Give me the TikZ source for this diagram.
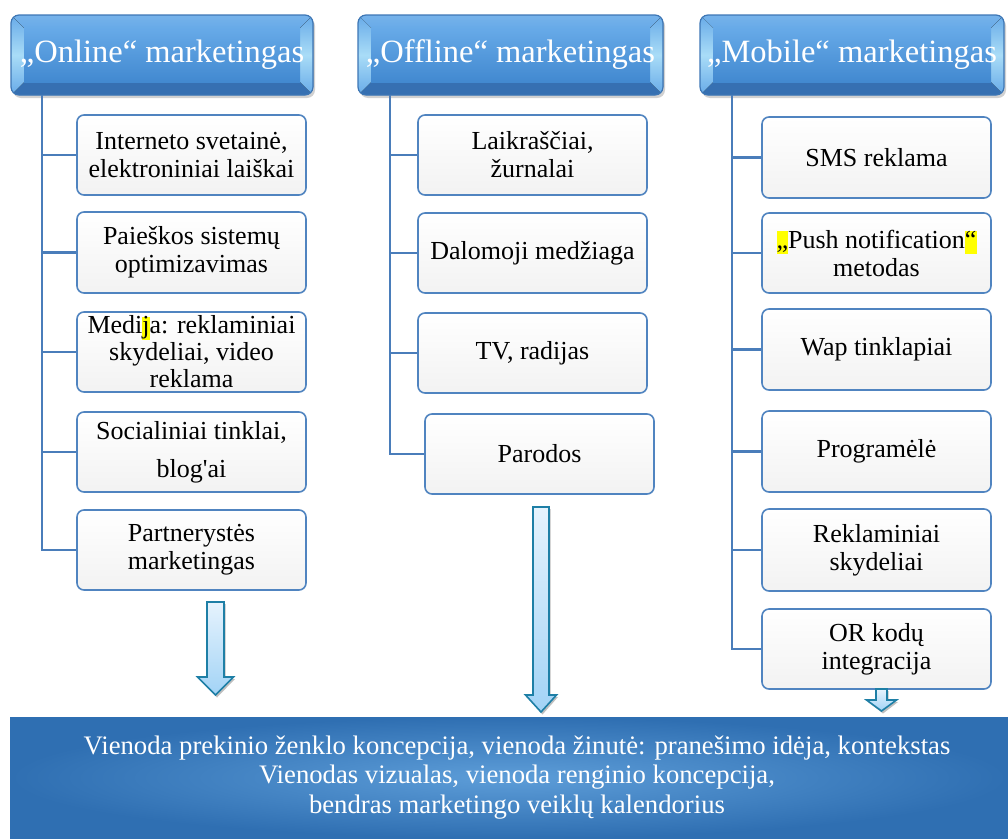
\documentclass[tikz,border=0pt]{standalone}
\usepackage{fontspec}
\setmainfont{Liberation Serif}
\usetikzlibrary{calc}

\definecolor{linkblue}{HTML}{4A7DBA}
\definecolor{boxline}{HTML}{5084C0}
\definecolor{hdrline}{HTML}{3D76B5}
\definecolor{hdrtop}{HTML}{67AAE8}
\definecolor{hdrbot}{HTML}{4289D0}
\definecolor{hdrside}{HTML}{A9DCF7}
\definecolor{hdrlow}{HTML}{3670B2}
\definecolor{arrline}{HTML}{1E7FA6}
\definecolor{arrtop}{HTML}{E6F3FD}
\definecolor{arrbot}{HTML}{A2D3F6}
\definecolor{panelout}{HTML}{2F6FB2}
\definecolor{panelin}{HTML}{5D9DD8}
\definecolor{hlyellow}{HTML}{FFFF00}

\newcommand\hlt[1]{{\setlength{\fboxsep}{0pt}\colorbox{hlyellow}{\vphantom{Mgj}#1}}}

% bevelled header plate: x1 y1 x2 y2
\newcommand\bevelplate[4]{%
  \fill[black,opacity=.18,rounded corners=8pt] ({#1+2},{#2+3}) rectangle ({#3+2},{#4+3});
  \begin{scope}
    \clip[rounded corners=8pt] (#1,#2) rectangle (#3,#4);
    \fill[top color=hdrtop,bottom color=hdrlow] (#1,#2) rectangle (#3,#4);
    \fill[top color=hdrtop!90!white,bottom color=hdrtop] (#1,#2) -- (#3,#2) -- ({#3-13},{#2+13}) -- ({#1+13},{#2+13}) -- cycle;
    \fill[hdrlow] (#1,#4) -- (#3,#4) -- ({#3-13},{#4-13}) -- ({#1+13},{#4-13}) -- cycle;
    \fill[top color=hdrtop,bottom color=hdrtop,middle color=hdrside] (#1,#2) -- ({#1+13},{#2+13}) -- ({#1+13},{#4-13}) -- (#1,#4) -- cycle;
    \fill[top color=hdrtop,bottom color=hdrtop,middle color=hdrside] (#3,#2) -- ({#3-13},{#2+13}) -- ({#3-13},{#4-13}) -- (#3,#4) -- cycle;
    \fill[top color=hdrtop,bottom color=hdrbot] ({#1+13},{#2+13}) rectangle ({#3-13},{#4-13});
  \end{scope}
  \draw[hdrline,line width=1.2pt,rounded corners=8pt] (#1,#2) rectangle (#3,#4);
}

% block arrow: centre x, half shaft, half head, shaft top, head start, tip
\newcommand\blockarrow[6]{%
  \fill[black,opacity=.25] ({#1-#2+1.5},{#4+2}) -- ({#1+#2+1.5},{#4+2}) -- ({#1+#2+1.5},{#5+2}) -- ({#1+#3+1.5},{#5+2}) -- ({#1+1.5},{#6+2.5}) -- ({#1-#3+1.5},{#5+2}) -- ({#1-#2+1.5},{#5+2}) -- cycle;
  \draw[blockarr] ({#1-#2},#4) -- ({#1+#2},#4) -- ({#1+#2},#5) -- ({#1+#3},#5) -- (#1,#6) -- ({#1-#3},#5) -- ({#1-#2},#5) -- cycle;
}

\tikzset{
  hdrtext/.style={text=white,font=\fontsize{32.5}{36}\selectfont,inner sep=0pt},
  child/.style={draw=boxline,line width=1.6pt,rounded corners=7pt,
    top color=white,bottom color=black!5,minimum width=229pt,
    inner sep=0pt,align=center,font=\fontsize{26}{28}\selectfont},
  trunk/.style={linkblue,line width=2.4pt},
  blockarr/.style={draw=arrline,line width=1.6pt,top color=arrtop,bottom color=arrbot,line join=miter},
  panel/.style={inner color=panelin,outer color=panelout,minimum width=998pt,minimum height=121pt,inner sep=0pt},
  paneltext/.style={inner sep=0pt,text=white,align=center,font=\fontsize{26.7}{29.5}\selectfont}
}

\begin{document}
\begin{tikzpicture}[x=1pt,y=-1pt]
\useasboundingbox (0,0) rectangle (1008,838);

% ---- header plates
\bevelplate{11}{15}{313}{95}
\node[hdrtext] (hon) at (162,55) {„Online“ marketingas};
\bevelplate{358}{15}{663}{95}
\node[hdrtext] (hof) at (510.5,55) {„Offline“ marketingas};
\bevelplate{700}{15}{1004}{95}
\node[hdrtext] (hmo) at (852,55) {„Mobile“ marketingas};

% ---- online channels
\node[child,minimum height=80pt] (o1) at (191.5,155) {Interneto svetainė,\\elektroniniai laiškai};
\node[child,minimum height=81pt] (o2) at (191.5,252.5) {Paieškos sistemų\\optimizavimas};
\node[child,minimum height=80pt] (o3) at (191.5,352) {Medi\hlt{j}a: reklaminiai\\[-1pt]skydeliai, video\\[-1pt]reklama};
\node[child,minimum height=80pt] (o4) at (191.5,452) {Socialiniai tinklai,\\[10pt]blog\textquotesingle ai};
\node[child,minimum height=80pt] (o5) at (191.5,550) {Partnerystės\\marketingas};

% ---- offline channels
\node[child,minimum height=80pt] (f1) at (532.5,155) {Laikraščiai,\\žurnalai};
\node[child,minimum height=80pt] (f2) at (532.5,253) {Dalomoji medžiaga};
\node[child,minimum height=80pt] (f3) at (532.5,353) {TV, radijas};
\node[child,minimum height=80pt] (f4) at (539.5,454) {Parodos};

% ---- mobile channels
\node[child,minimum height=81pt] (m1) at (876.5,157.5) {SMS reklama};
\node[child,minimum height=80pt] (m2) at (876.5,253) {\hlt{„}Push notification\hlt{“}\\metodas};
\node[child,minimum height=81pt] (m3) at (876.5,349.5) {Wap tinklapiai};
\node[child,minimum height=81pt] (m4) at (876.5,451.5) {Programėlė};
\node[child,minimum height=82pt] (m5) at (876.5,550) {Reklaminiai\\skydeliai};
\node[child,minimum height=80pt] (m6) at (876.5,649) {OR kodų\\integracija};

% ---- tree connectors
\coordinate (ton) at (42,95);
\coordinate (tof) at (390,95);
\coordinate (tmo) at (732,95);
\draw[trunk] (ton) |- (o5.west);
\foreach \c in {o1,o2,o3,o4} \draw[trunk] (ton |- \c.west) -- (\c.west);
\draw[trunk] (tof) |- (f4.west);
\foreach \c in {f1,f2,f3} \draw[trunk] (tof |- \c.west) -- (\c.west);
\draw[trunk] (tmo) |- (m6.west);
\foreach \c in {m1,m2,m3,m4,m5} \draw[trunk] (tmo |- \c.west) -- (\c.west);

% ---- summary panel
\node[panel] (sum) at (509,777.5) {};
\node[paneltext] (sumtext) at (517,777.5) {Vienoda prekinio ženklo koncepcija, vienoda žinutė: pranešimo idėja, kontekstas\\Vienodas vizualas, vienoda renginio koncepcija,\\bendras marketingo veiklų kalendorius};

% ---- block arrows into the panel
\blockarrow{215.5}{8.5}{18}{602}{677}{695}
\blockarrow{541}{8}{15.5}{507}{695}{712}
\blockarrow{881.5}{5.5}{15}{689}{700}{711}
\end{tikzpicture}
\end{document}
